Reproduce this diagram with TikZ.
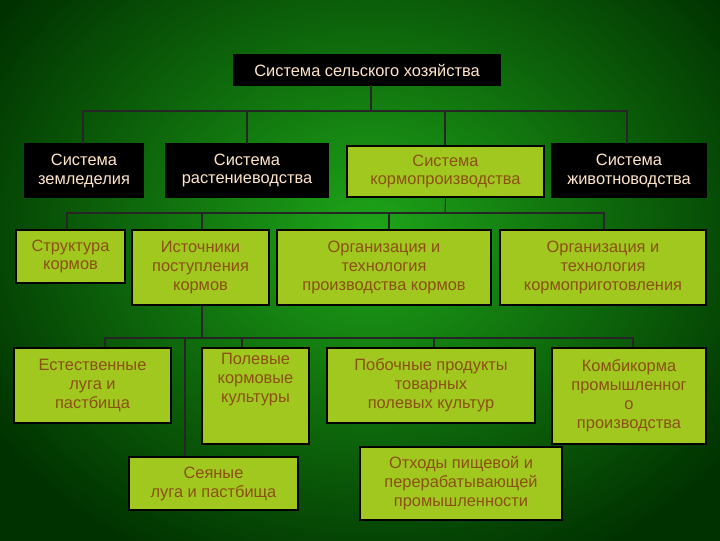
\documentclass[tikz,border=0pt]{standalone}
\usepackage{fontspec}
\setmainfont{Liberation Sans}
\definecolor{bgin}{RGB}{30,165,25}
\definecolor{bgout}{RGB}{0,50,0}
\definecolor{boxg}{RGB}{160,200,30}
\definecolor{txtb}{RGB}{140,80,20}
\definecolor{txtw}{RGB}{255,230,200}
\newcommand{\bx}[7]{%
  \node[#6, minimum width={(#4-#2)*0.75pt}, minimum height={(#5-#3)*0.75pt}] (#1) at ({(#2+#4)/2},{(#3+#5)/2}) {#7};}
\begin{document}
\begin{tikzpicture}[x=0.75pt,y=-0.75pt,
  base/.style={rectangle, draw=black, line width=1pt, align=center, inner sep=1pt, font=\fontsize{12.3}{14.2}\selectfont},
  dark/.style={base, fill=black, text=txtw},
  lite/.style={base, fill=boxg, text=txtb},
  con/.style={draw=black!85, line width=0.8pt}]
\useasboundingbox (0,0) rectangle (720,540);
\begin{scope}
\clip (0,0) rectangle (720,540);
\shade[inner color=bgin, outer color=bgout] (-80,-140) rectangle (820,600);
\end{scope}
\bx{top}{234}{55}{500}{85}{dark}{Система сельского хозяйства}
\bx{zem}{25}{144}{143}{197}{dark}{Система\\земледелия}
\bx{ras}{166}{144}{328}{197}{dark}{Система\\растениеводства}
\bx{korm}{347}{146}{544}{197}{lite}{Система\\кормопроизводства}
\bx{zhiv}{552}{144}{706}{197}{dark}{Система\\животноводства}
\bx{str}{16}{230}{125}{283}{lite}{Структура\\кормов}
\bx{ist}{132}{230}{269}{305}{lite}{Источники\\поступления\\кормов}
\bx{org1}{277}{230}{491}{305}{lite}{Организация и\\технология\\производства кормов}
\bx{org2}{500}{230}{706}{305}{lite}{Организация и\\технология\\кормоприготовления}
\bx{est}{14}{348}{171}{423}{lite}{Естественные\\луга и\\пастбища}
\bx{pol}{202}{348}{309}{444}{lite}{}
\node[text=txtb, align=center, anchor=north, font=\fontsize{12.3}{14.2}\selectfont, inner sep=1pt] (polt) at (255.5,352) {Полевые\\кормовые\\культуры};
\bx{pob}{327}{348}{535}{423}{lite}{Побочные продукты\\товарных\\полевых культур}
\bx{komb}{552}{348}{706}{444}{lite}{Комбикорма\\промышленног\\о\\производства}
\bx{sey}{129}{457}{298}{510}{lite}{Сеяные\\луга и пастбища}
\bx{oth}{360}{447}{562}{520}{lite}{Отходы пищевой и\\перерабатывающей\\промышленности}
% level 1
\coordinate (h1) at (371,111);
\coordinate (t1) at (371,85);
\draw[con] (t1) -- (h1);
\draw[con] (zem.north -| 83,0) |- (h1) -| (zhiv.north -| 627,0);
\draw[con] (ras.north -| 247,0) -- (h1 -| 247,0);
\draw[con] (korm.north -| 445,0) -- (h1 -| 445,0);
% level 2
\coordinate (h2) at (445,213);
\draw[con] (korm.south) -- (h2);
\draw[con] (str.north -| 67,0) |- (h2) -| (org2.north -| 604,0);
\draw[con] (ist.north -| 202,0) -- (h2 -| 202,0);
\draw[con] (org1.north -| 389,0) -- (h2 -| 389,0);
% level 3
\coordinate (h3) at (202,338);
\draw[con] (ist.south -| 202,0) -- (h3);
\draw[con] (est.north -| 105,0) |- (h3) -| (komb.north -| 633,0);
\draw[con] (pol.north -| 242,0) -- (h3 -| 242,0);
\draw[con] (pob.north -| 434,0) -- (h3 -| 434,0);
\draw[con] (sey.north -| 185,0) -- (h3 -| 185,0);
\end{tikzpicture}
\end{document}
